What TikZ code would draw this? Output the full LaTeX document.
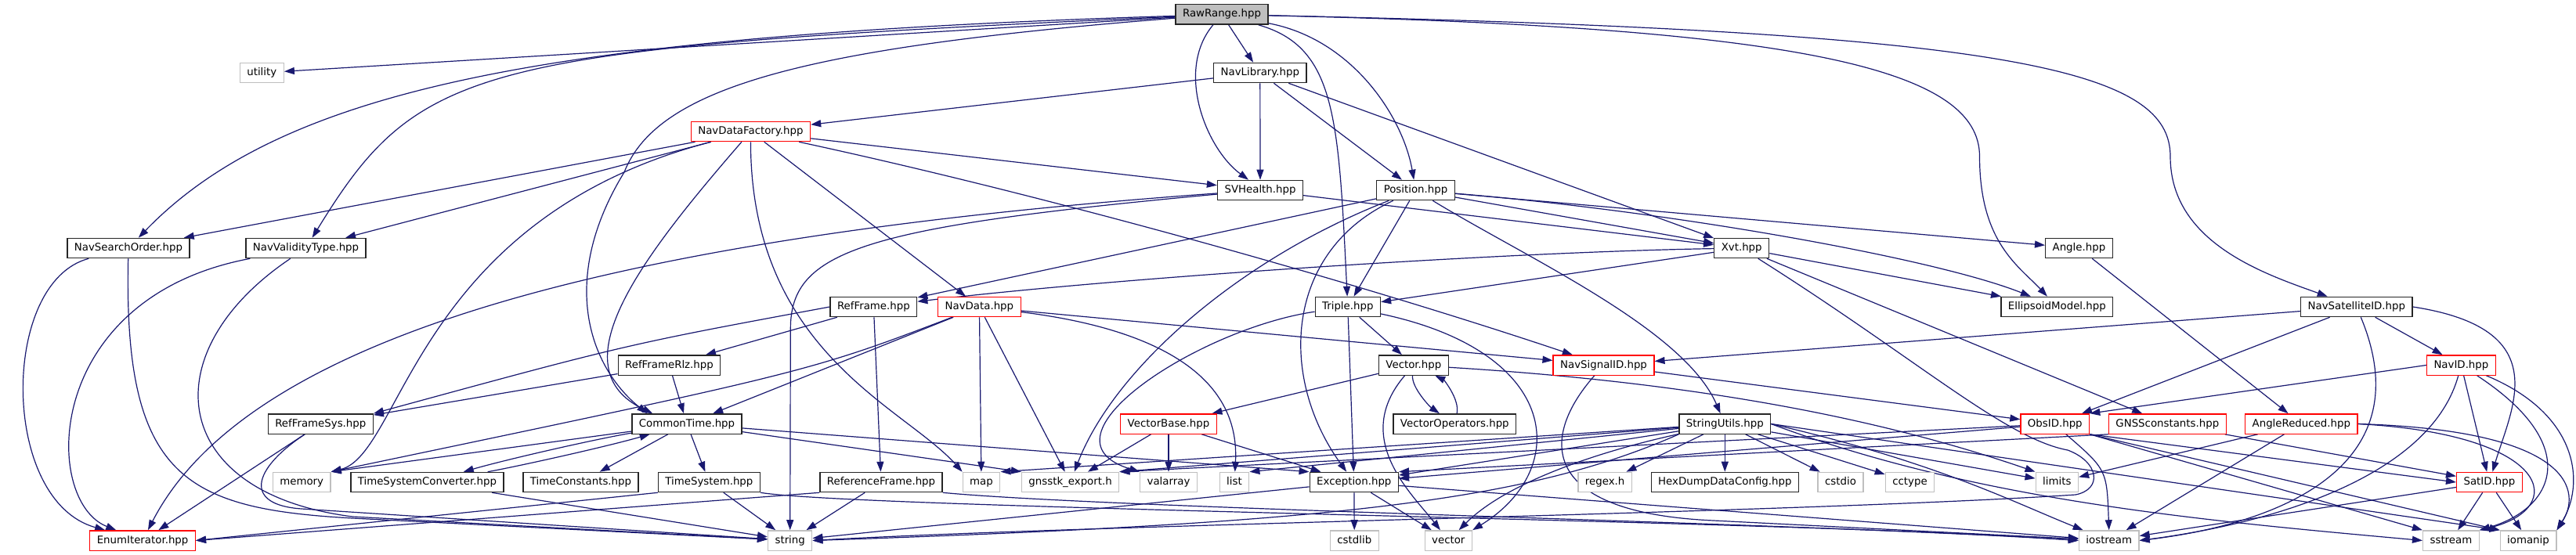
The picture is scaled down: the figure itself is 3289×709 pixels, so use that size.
\documentclass[tikz,border=0pt]{standalone}
\usepackage{fontspec}
\setmainfont{DejaVu Sans}
\usetikzlibrary{arrows.meta}
\definecolor{edgeblue}{HTML}{191970}
\definecolor{extgray}{HTML}{BFBFBF}
\definecolor{rootgray}{HTML}{BFBFBF}
\pgfdeclarelayer{back}
\pgfdeclarelayer{bg}
\pgfsetlayers{back,bg,main}
\begin{document}
\begin{tikzpicture}[x=1pt,y=-1pt,
  nbox/.style={draw, rectangle, fill=white, line width=1.3pt, inner xsep=9pt, inner ysep=0pt,
    minimum height=25.3pt, text height=10pt, text depth=3pt, font=\fontsize{13.33}{16}\selectfont},
  docbox/.style={nbox, draw=black!85},
  redbox/.style={nbox, draw=red},
  extbox/.style={nbox, draw=extgray},
  rootbox/.style={nbox, draw=black!85, fill=rootgray},
  lk/.style={draw=edgeblue, line width=1.2pt, -{Triangle[length=13pt,width=9pt]}}]
\useasboundingbox (0,0) rectangle (3289,709);
\begin{pgfonlayer}{back}
\fill[white] (0,0) rectangle (3289,709);
\end{pgfonlayer}

% row 1
\node[rootbox] (RawRange) at (1560,18.5) {RawRange.hpp};
% row 2
\node[extbox] (utility) at (334.3,93) {utility};
\node[docbox] (NavLibrary) at (1608.8,93) {NavLibrary.hpp};
% row 3
\node[redbox] (NDF) at (958.4,168) {NavDataFactory.hpp};
% row 4
\node[docbox] (SVHealth) at (1609,243) {SVHealth.hpp};
\node[docbox] (Position) at (1807.5,243) {Position.hpp};
% row 5
\node[docbox] (NSO) at (164,317) {NavSearchOrder.hpp};
\node[docbox] (NVT) at (390.5,317) {NavValidityType.hpp};
\node[docbox] (Xvt) at (2223.7,317) {Xvt.hpp};
\node[docbox] (Angle) at (2654.4,317) {Angle.hpp};
% row 6
\node[docbox] (RefFrame) at (1115.4,392) {RefFrame.hpp};
\node[redbox] (NavData) at (1250.4,392) {NavData.hpp};
\node[docbox] (Triple) at (1720.8,392) {Triple.hpp};
\node[docbox] (Ellipsoid) at (2626.3,392) {EllipsoidModel.hpp};
\node[docbox] (NSatID) at (3008.8,392) {NavSatelliteID.hpp};
% row 7
\node[docbox] (RFRlz) at (854.5,466.5) {RefFrameRlz.hpp};
\node[docbox] (Vector) at (1804.9,466.5) {Vector.hpp};
\node[redbox] (NSigID) at (2047.5,466.5) {NavSignalID.hpp};
\node[redbox] (NavID) at (3142.4,466.5) {NavID.hpp};
% row 8
\node[docbox] (RFSys) at (409.3,541.5) {RefFrameSys.hpp};
\node[docbox] (CommonTime) at (877,541.5) {CommonTime.hpp};
\node[redbox] (VectorBase) at (1492,541.5) {VectorBase.hpp};
\node[docbox] (VecOps) at (1857.3,541.5) {VectorOperators.hpp};
\node[docbox] (StringUtils) at (2202.3,541.5) {StringUtils.hpp};
\node[redbox] (ObsID) at (2623.8,541.5) {ObsID.hpp};
\node[redbox] (GNSSc) at (2767.3,541.5) {GNSSconstants.hpp};
\node[redbox] (AngleRed) at (2938.3,541.5) {AngleReduced.hpp};
% row 9
\node[extbox] (memory) at (385.2,616) {memory};
\node[docbox] (TSC) at (545.4,616) {TimeSystemConverter.hpp};
\node[docbox] (TimeConst) at (741.5,616) {TimeConstants.hpp};
\node[docbox] (TimeSys) at (905.4,616) {TimeSystem.hpp};
\node[docbox] (RefFrameEnum) at (1125,616) {ReferenceFrame.hpp};
\node[extbox] (map) at (1253,616) {map};
\node[extbox] (gexp) at (1366.6,616) {gnsstk\_export.h};
\node[extbox] (valarray) at (1492,616) {valarray};
\node[extbox] (list) at (1576,616) {list};
\node[docbox] (Exception) at (1728.8,616) {Exception.hpp};
\node[extbox] (regex) at (2049.1,616) {regex.h};
\node[docbox] (HexDump) at (2202.3,616) {HexDumpDataConfig.hpp};
\node[extbox] (cstdio) at (2350,616) {cstdio};
\node[extbox] (cctype) at (2438.5,616) {cctype};
\node[extbox] (limits) at (2626.3,616) {limits};
\node[redbox] (SatID) at (3178.4,616) {SatID.hpp};
% row 10
\node[redbox] (EnumIt) at (182.1,690.5) {EnumIterator.hpp};
\node[extbox] (string) at (1008.7,690.5) {string};
\node[extbox] (cstdlib) at (1729.3,690.5) {cstdlib};
\node[extbox] (vector) at (1849.3,690.5) {vector};
\node[extbox] (iostream) at (2692.7,690.5) {iostream};
\node[extbox] (sstream) at (3129.4,690.5) {sstream};
\node[extbox] (iomanip) at (3228,690.5) {iomanip};

\begin{pgfonlayer}{bg}
% RawRange
\draw[lk] (RawRange) -- (utility);
\draw[lk] (RawRange) .. controls (711,45) and (364,110) .. (NSO);
\draw[lk] (RawRange) .. controls (604,62) and (536,80) .. (NVT);
\draw[lk] (RawRange) .. controls (1032.8,60) and (840,110) .. (797,220) .. controls (711.4,360) and (754.3,470) .. ([xshift=20pt]CommonTime.north west);
\draw[lk] (RawRange) -- (NavLibrary);
\draw[lk] (RawRange) .. controls (1500,90) and (1540,190) .. ([xshift=-15pt]SVHealth.north);
\draw[lk] (RawRange) .. controls (1705.7,60) and (1708.9,150) .. (Triple);
\draw[lk] (RawRange) .. controls (1727.1,50) and (1791.4,150) .. (Position);
\draw[lk] (RawRange) .. controls (2310,35) and (2527.5,90) .. (2527.5,200) .. controls (2527.5,310) and (2577.9,340) .. (Ellipsoid);
\draw[lk] (RawRange) .. controls (2577.9,40) and (2771,90) .. (2771,200) .. controls (2771,310) and (2891.6,350) .. (NSatID);
% NavLibrary
\draw[lk] (NavLibrary) -- (NDF);
\draw[lk] (NavLibrary) -- (SVHealth);
\draw[lk] (NavLibrary) -- (Position);
\draw[lk] (NavLibrary) -- (Xvt);
% NavDataFactory
\draw[lk] (NDF) -- (NSO);
\draw[lk] (NDF) -- (NVT);
\draw[lk] (NDF) .. controls (530,280) and (514,580) .. (memory.north east);
\draw[lk] (NDF) .. controls (818,330) and (711,470) .. ([xshift=27pt]CommonTime.north west);
\draw[lk] (NDF) .. controls (958.6,450) and (1155,520) .. (map.north west);
\draw[lk] (NDF) -- (NavData);
\draw[lk] (NDF) -- (SVHealth);
\draw[lk] (NDF) .. controls (1315.7,245) and (1705.7,352) .. (NSigID);
% NavSearchOrder / NavValidityType
\draw[lk] (NSO) .. controls (0,360) and (0,640) .. (EnumIt);
\draw[lk] (NSO) .. controls (157.5,610) and (235.7,650) .. (450,662) -- (string);
\draw[lk] (NVT) .. controls (53.6,380) and (53.6,640) .. (EnumIt);
\draw[lk] (NVT) .. controls (192.9,450) and (214.3,630) .. (450,660) -- (string);
% SVHealth
\draw[lk] (SVHealth) .. controls (818.6,300) and (321.4,420) .. (EnumIt);
\draw[lk] (SVHealth) .. controls (1101.4,290) and (1009.3,320) .. (1009.3,420) -- (string);
\draw[lk] (SVHealth) -- (Xvt);
% Position
\draw[lk] (Position) -- (RefFrame);
\draw[lk] (Position) -- (Triple);
\draw[lk] (Position) .. controls (1641.4,320) and (1630.7,480) .. (Exception);
\draw[lk] (Position) .. controls (1583.6,330) and (1422.8,470) .. (gexp);
\draw[lk] (Position) .. controls (1950,330) and (2150,420) .. (StringUtils);
\draw[lk] (Position) -- (Xvt);
\draw[lk] (Position) .. controls (2134.3,270) and (2470.7,330) .. (Ellipsoid);
\draw[lk] (Position) -- (Angle);
% Xvt
\draw[lk] (Xvt) .. controls (1920,322) and (1422.8,355) .. (RefFrame);
\draw[lk] (Xvt) -- (Triple);
\draw[lk] (Xvt) -- (Ellipsoid);
\draw[lk] (Xvt) -- (GNSSc);
\draw[lk] (Xvt) .. controls (2450,460) and (2560,560) .. (2640,575) .. controls (2680,590) and (2685,625) .. (2650,632) .. controls (2300,655) and (1400,670) .. (string.east);
% Angle
\draw[lk] (Angle) -- (AngleRed);
% Triple
\draw[lk] (Triple) -- (Vector);
\draw[lk] (Triple) -- (Exception);
\draw[lk] (Triple) .. controls (1995,450) and (2005.7,600) .. (vector.north east);
\draw[lk] (Triple) .. controls (1530,420) and (1315.7,560) .. (valarray.north west);
% Vector
\draw[lk] (Vector) -- (VectorBase);
\draw[lk] (Vector) .. controls (1802,495) and (1826,520) .. (VecOps);
\draw[lk] (VecOps) .. controls (1864,510) and (1843,485) .. (Vector);
\draw[lk] (Vector) .. controls (1725,560) and (1802.1,630) .. (vector);
\draw[lk] (Vector) .. controls (2187.8,490) and (2417,540) .. (limits.north west);
% VectorBase
\draw[lk] (VectorBase) -- (gexp);
\draw[lk] (VectorBase) -- (valarray);
\draw[lk] (VectorBase) -- (Exception);
% RefFrame
\draw[lk] (RefFrame) -- (RFRlz);
\draw[lk] (RefFrame.west) .. controls (800,440) .. (RFSys.north east);
\draw[lk] (RefFrame) -- (RefFrameEnum);
% RefFrameRlz
\draw[lk] (RFRlz) -- (CommonTime);
\draw[lk] (RFRlz) -- (RFSys);
% RefFrameSys
\draw[lk] (RFSys) -- (EnumIt);
\draw[lk] (RFSys) .. controls (321,600) and (311,645) .. (385,650) -- (string);
% NavData
\draw[lk] (NavData) .. controls (1032.8,475) .. (memory.north east);
\draw[lk] (NavData) -- (CommonTime);
\draw[lk] (NavData) -- (map);
\draw[lk] (NavData) -- (gexp);
\draw[lk] (NavData) .. controls (1476.4,420) and (1583.6,480) .. (list);
\draw[lk] (NavData) -- (NSigID);
% CommonTime
\draw[lk] (CommonTime) .. controls (765,560) and (650,586) .. (TSC);
\draw[lk] (TSC) .. controls (650,598) and (765,573) .. (CommonTime);
\draw[lk] (CommonTime) -- (TimeConst);
\draw[lk] (CommonTime) -- (TimeSys);
\draw[lk] (CommonTime) -- (Exception.north west);
\draw[lk] (CommonTime) -- (gexp.north west);
\draw[lk] (CommonTime) -- (memory.north east);
% TimeSystemConverter
\draw[lk] (TSC) -- (string);
% TimeSystem
\draw[lk] (TimeSys) -- (string);
\draw[lk] (TimeSys.south west) -- (EnumIt.east);
\draw[lk] (TimeSys.south east) .. controls (1101.4,650) and (2310,665) .. (iostream.west);
% ReferenceFrame
\draw[lk] (RefFrameEnum) -- (string);
\draw[lk] (RefFrameEnum.south west) -- (EnumIt.east);
\draw[lk] (RefFrameEnum.south east) .. controls (1422.8,650) and (2310,668) .. (iostream.west);
% Exception
\draw[lk] (Exception) -- (cstdlib);
\draw[lk] (Exception) -- (vector);
\draw[lk] (Exception) -- (string);
\draw[lk] (Exception) -- (iostream);
% StringUtils
\draw[lk] (StringUtils) -- (Exception);
\draw[lk] (StringUtils) -- (gexp.north east);
\draw[lk] (StringUtils) -- (map.north east);
\draw[lk] (StringUtils) -- (list.north east);
\draw[lk] (StringUtils.south west) .. controls (1950,640) and (1705.7,668) .. (string.east);
\draw[lk] (StringUtils) .. controls (2027,580) and (1920,620) .. (vector);
\draw[lk] (StringUtils) -- (regex);
\draw[lk] (StringUtils) -- (HexDump);
\draw[lk] (StringUtils) -- (cstdio);
\draw[lk] (StringUtils) -- (cctype);
\draw[lk] (StringUtils) -- (limits);
\draw[lk] (StringUtils.east) .. controls (2470.7,590) and (2567.1,640) .. (iostream);
\draw[lk] (StringUtils.east) .. controls (2524.3,640) and (2812.7,665) .. (sstream.west);
\draw[lk] (StringUtils.east) -- (iomanip.north west);
% ObsID
\draw[lk] (ObsID) -- (Exception);
\draw[lk] (ObsID) -- (gexp.north east);
\draw[lk] (ObsID.south east) -- (SatID.west);
\draw[lk] (ObsID.south east) -- (sstream.north west);
\draw[lk] (ObsID.south east) -- (iomanip.north west);
\draw[lk] ([xshift=14pt]ObsID.south) .. controls (2690,600) .. (iostream.north);
% NavSignalID
\draw[lk] (NSigID) -- (ObsID);
\draw[lk] (NSigID) .. controls (1965,560) and (1965,655) .. (2187.8,665) -- (iostream);
% NavSatelliteID
\draw[lk] (NSatID) -- (NSigID);
\draw[lk] (NSatID) -- (ObsID);
\draw[lk] (NSatID) -- (NavID);
\draw[lk] (NSatID.east) .. controls (3263.5,420) and (3207,520) .. (SatID);
\draw[lk] (NSatID) .. controls (3095,600) and (2902.9,670) .. (iostream.east);
% NavID
\draw[lk] (NavID.west) -- (ObsID.north east);
\draw[lk] (NavID) -- (SatID);
\draw[lk] (NavID) .. controls (3105.7,600) and (2925.4,665) .. (iostream.east);
\draw[lk] (NavID) .. controls (3300,570) and (3260,650) .. (sstream.north east);
\draw[lk] (NavID) .. controls (3295,530) and (3300,620) .. (iomanip.north east);
% SatID
\draw[lk] (SatID) -- (iostream);
\draw[lk] (SatID) -- (sstream);
\draw[lk] (SatID) -- (iomanip);
% AngleReduced
\draw[lk] (AngleRed) -- (limits);
\draw[lk] (AngleRed) -- (iostream);
\draw[lk] (AngleRed.east) .. controls (3260,555) and (3280,650) .. (sstream.north east);
\draw[lk] (AngleRed.east) .. controls (3290,550) and (3295,630) .. (iomanip.north east);
% GNSSconstants
\draw[lk] (GNSSc) -- (SatID);
\draw[lk] (GNSSc.south west) -- (Exception.north east);
\end{pgfonlayer}
\end{tikzpicture}
\end{document}
